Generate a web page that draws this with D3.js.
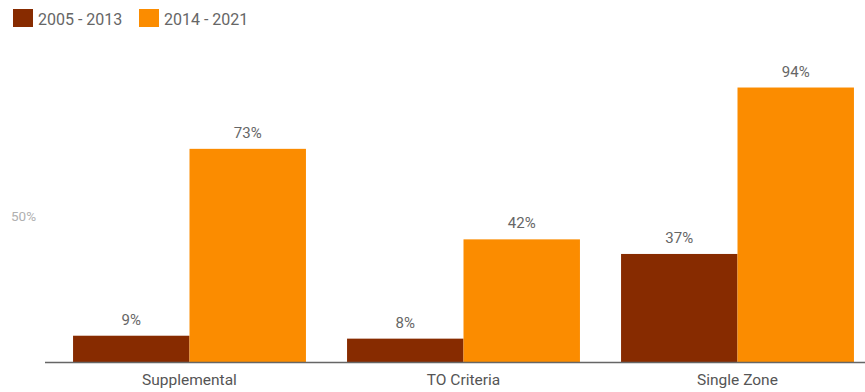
<!DOCTYPE html>
<html><head><meta charset="utf-8">
<script src="https://cdn.jsdelivr.net/npm/d3@7"></script>
<style>body{margin:0;background:#fff;}svg{display:block;font-family:Roboto,"Open Sans",sans-serif;}</style>
</head><body><svg id="c" width="865" height="392"></svg>
<script>
const categories = ["Supplemental", "TO Criteria", "Single Zone"];
const seriesNames = ["2005 - 2013", "2014 - 2021"];
const values2005 = [9, 8, 37];
const values2014 = [73, 42, 94];
const yTicks = [50];
const colors = ["#872b00", "#fb8c00"];

const svg = d3.select("#c");
const y = d3.scaleLinear().domain([0, 100]).range([362, 70]);
const x0 = d3.scaleBand().domain(categories).range([52.5, 874.5]).paddingInner(0.15).paddingOuter(0.075);
const x1 = d3.scaleBand().domain(seriesNames).range([0, x0.bandwidth()]);

const data = categories.map((c, i) => ({cat: c, vals: [values2005[i], values2014[i]]}));

// y tick label
svg.append("g").selectAll("text").data(yTicks).join("text")
  .attr("x", 11).attr("y", d => y(d) + 5)
  .attr("font-size", 13.5).attr("fill", "#b0b0b0").text(d => d + "%");

const g = svg.append("g").selectAll("g").data(data).join("g")
  .attr("transform", d => `translate(${x0(d.cat)},0)`);
g.selectAll("rect").data(d => d.vals.map((v, j) => ({s: seriesNames[j], v, j}))).join("rect")
  .attr("x", d => x1(d.s)).attr("width", x1.bandwidth())
  .attr("y", d => y(d.v)).attr("height", d => y(0) - y(d.v))
  .attr("fill", d => colors[d.j]);
g.selectAll("text.v").data(d => d.vals.map((v, j) => ({s: seriesNames[j], v, j}))).join("text")
  .attr("class", "v")
  .attr("x", d => x1(d.s) + x1.bandwidth() / 2).attr("y", d => y(d.v) - 11)
  .attr("text-anchor", "middle").attr("font-size", 15).attr("fill", "#666")
  .text(d => d.v + "%");

// baseline axis
svg.append("line").attr("x1", 45).attr("x2", 865).attr("y1", y(0) + 0.5).attr("y2", y(0) + 0.5)
  .attr("stroke", "#666").attr("stroke-width", 1.5);

// category labels
svg.append("g").selectAll("text").data(categories).join("text")
  .attr("x", d => x0(d) + x0.bandwidth() / 2).attr("y", 385)
  .attr("text-anchor", "middle").attr("font-size", 15.5).attr("fill", "#555").text(d => d);

// legend
const lg = svg.append("g").attr("transform", "translate(13,9)");
const lx = [0, 126];
seriesNames.forEach((s, i) => {
  lg.append("rect").attr("x", lx[i]).attr("y", 0).attr("width", 20).attr("height", 18).attr("fill", colors[i]);
  lg.append("text").attr("x", lx[i] + 25).attr("y", 15.5).attr("font-size", 16).attr("fill", "#666").text(s);
});
</script></body></html>
